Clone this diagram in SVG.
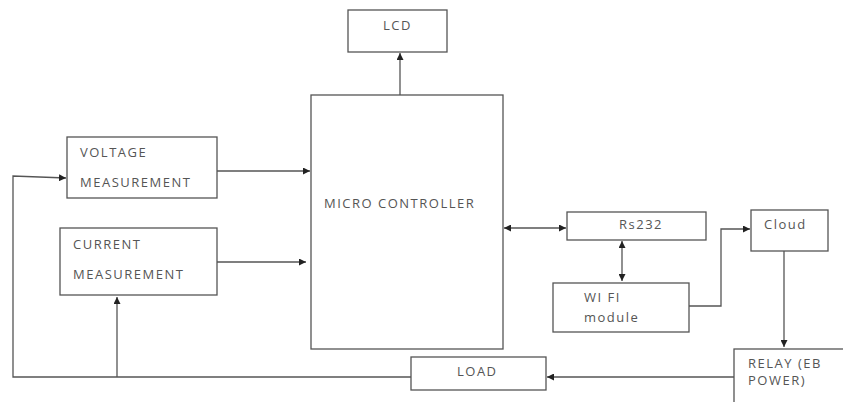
<svg xmlns="http://www.w3.org/2000/svg" width="843" height="402" viewBox="0 0 843 402">
<defs>
<marker id="ah" viewBox="0 0 10 10" refX="10" refY="5" markerWidth="7" markerHeight="7" markerUnits="userSpaceOnUse" orient="auto-start-reverse">
<path d="M0,0 L10,5 L0,10 z" fill="#222"/>
</marker>
<style>
.box{fill:#fff;stroke:#555;stroke-width:1.3}
.t{font-family:"Open Sans","Liberation Sans",sans-serif;font-size:13px;letter-spacing:1.5px;fill:#555}
.c{stroke:#555;stroke-width:1.3;fill:none}
</style>
</defs>
<rect width="843" height="402" fill="#fff"/>
<g id="connectors">
<path class="c" d="M400,95 V53" marker-end="url(#ah)"/>
<path class="c" d="M217,171 H310" marker-end="url(#ah)"/>
<path class="c" d="M217,262 H306" marker-end="url(#ah)"/>
<path class="c" d="M411,377 H13 V176 L66,178" marker-end="url(#ah)"/>
<path class="c" d="M117,377 V297" marker-end="url(#ah)"/>
<path class="c" d="M504,228 H566" marker-start="url(#ah)" marker-end="url(#ah)"/>
<path class="c" d="M622,241 V281" marker-start="url(#ah)" marker-end="url(#ah)"/>
<path class="c" d="M689,306 H721 V229 H750" marker-end="url(#ah)"/>
<path class="c" d="M784,251 V347" marker-end="url(#ah)"/>
<path class="c" d="M734,377 H547" marker-end="url(#ah)"/>
</g>
<g id="lcd"><rect class="box" x="348" y="10" width="99" height="42"/><text class="t" x="383" y="30">LCD</text></g>
<g id="microcontroller"><rect class="box" x="311" y="95" width="192" height="254"/><text class="t" x="324" y="208">MICRO CONTROLLER</text></g>
<g id="voltage"><rect class="box" x="67" y="137" width="150" height="61"/><text class="t" x="80" y="157">VOLTAGE</text><text class="t" x="80" y="187">MEASUREMENT</text></g>
<g id="current"><rect class="box" x="60" y="228" width="157" height="67"/><text class="t" x="73" y="249">CURRENT</text><text class="t" x="73" y="279">MEASUREMENT</text></g>
<g id="rs232"><rect class="box" x="567" y="212" width="139" height="28"/><text class="t" x="619" y="229">Rs232</text></g>
<g id="cloud"><rect class="box" x="751" y="210" width="77" height="41"/><text class="t" x="764" y="229">Cloud</text></g>
<g id="wifi"><rect class="box" x="553" y="283" width="136" height="49"/><text class="t" x="584" y="302">WI FI</text><text class="t" x="584" y="322">module</text></g>
<g id="load"><rect class="box" x="411" y="357" width="135" height="33"/><text class="t" x="457" y="376">LOAD</text></g>
<g id="relay"><rect class="box" x="734" y="349" width="120" height="60"/><text class="t" x="748" y="368">RELAY (EB</text><text class="t" x="748" y="385">POWER)</text></g>
</svg>
